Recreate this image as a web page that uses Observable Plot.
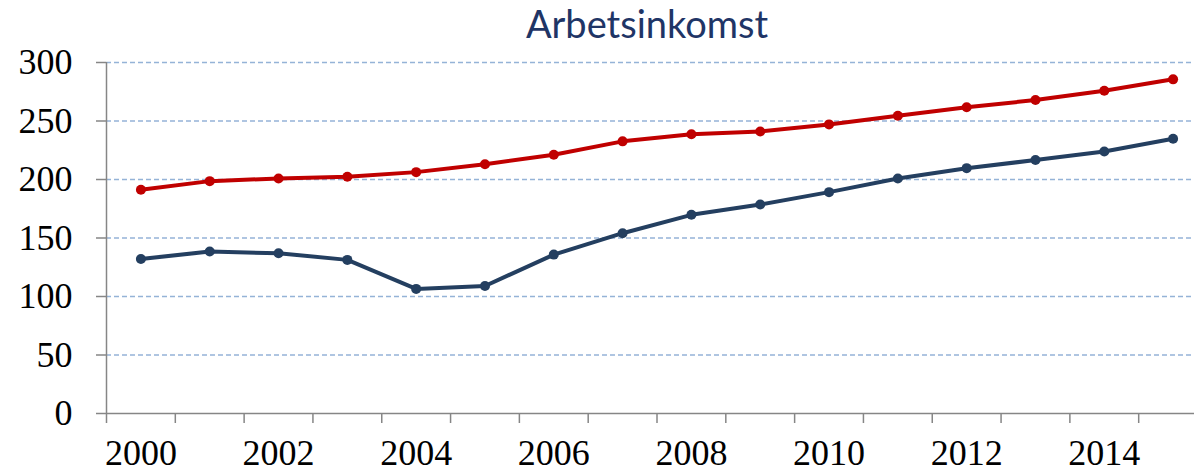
<!DOCTYPE html>
<html><head><meta charset="utf-8">
<script src="https://cdn.jsdelivr.net/npm/d3@7"></script>
<script src="https://cdn.jsdelivr.net/npm/@observablehq/plot@0.6"></script>
<style>
html,body{margin:0;padding:0;background:#fff;}
body{width:1194px;height:473px;overflow:hidden;position:relative;}
#title{position:absolute;left:447px;width:400px;top:1px;text-align:center;font-family:Lato,"Open Sans",sans-serif;font-size:38px;line-height:44px;color:#1f3566;}
#chart{position:absolute;left:0;top:44px;}
</style></head><body>
<div id="title">Arbetsinkomst</div>
<div id="chart"></div>
<script>
const years = [2000,2001,2002,2003,2004,2005,2006,2007,2008,2009,2010,2011,2012,2013,2014,2015];
const redSeries = [191.2,198.6,200.9,202.3,206.3,213.1,221.2,232.6,238.6,241.1,247.1,254.5,261.7,267.9,275.9,285.6];
const blueSeries = [132.1,138.4,137.0,131.3,106.5,109.0,135.8,154.1,169.8,178.6,189.2,200.9,209.7,216.6,224.0,234.9];
const yTicks = [0,50,100,150,200,250,300];
const gridTicks = [50,100,150,200,250,300];
const xLabelYears = [2000,2002,2004,2006,2008,2010,2012,2014];

const boundaries = years.map(y => y - 0.5).concat([years[years.length-1] + 0.5]);
const data = [
  ...years.map((y,i) => ({year:y, value:redSeries[i], s:"red"})),
  ...years.map((y,i) => ({year:y, value:blueSeries[i], s:"blue"}))
];
const colors = {red:"#c00000", blue:"#243f60"};

const chart = Plot.plot({
  width: 1194,
  height: 429,
  marginLeft: 106,
  marginRight: -13,
  marginTop: 18,
  marginBottom: 60,
  style: {fontFamily: "'Liberation Serif', 'Times New Roman', serif", fontSize: "36px", color: "#000", background: "transparent", overflow: "visible"},
  x: {domain: [boundaries[0], boundaries[boundaries.length-1]]},
  y: {domain: [0, 300]},
  marks: [
    Plot.ruleY(gridTicks, {stroke: "#95b3d7", strokeWidth: 1.5, strokeDasharray: "5,3"}),
    Plot.axisY(yTicks, {tickSize: 10, tickPadding: 24, stroke: "#868686", strokeWidth: 1.5, fill: "#000", label: null, tickFormat: d => d}),
    Plot.ruleX([boundaries[0]], {y1: 0, y2: 300, stroke: "#868686", strokeWidth: 1.5}),
    Plot.ruleY([0], {stroke: "#868686", strokeWidth: 1.5}),
    Plot.axisX(boundaries, {tickSize: 10, stroke: "#868686", strokeWidth: 1.5, tickFormat: () => "", label: null}),
    Plot.axisX(xLabelYears, {tickSize: 0, tickPadding: 26, fill: "#000", tickFormat: d => String(d), label: null}),
    Plot.line(data, {x: "year", y: "value", z: "s", stroke: d => colors[d.s], strokeWidth: 4, strokeLinejoin: "round"}),
    Plot.dot(data, {x: "year", y: "value", fill: d => colors[d.s], r: 5})
  ]
});
document.getElementById("chart").appendChild(chart);
</script>
</body></html>
